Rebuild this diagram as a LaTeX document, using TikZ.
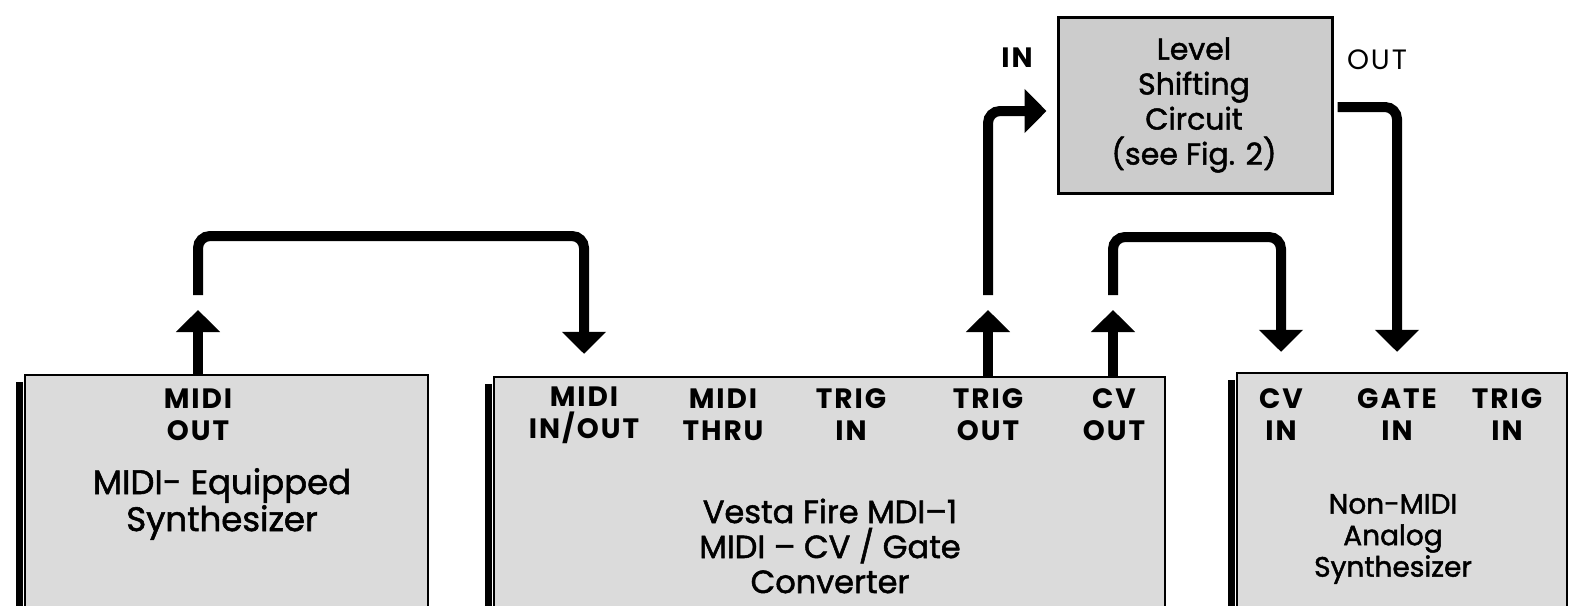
\documentclass[tikz,border=0pt]{standalone}
\usepackage{fontspec}
\setmainfont{Poppins}
\newfontfamily\titlefont{Poppins}[FakeBold=1.6]
\newfontfamily\jackfont{Poppins}[LetterSpace=7]
\usetikzlibrary{arrows.meta,positioning,fit}
\definecolor{stipple}{gray}{0.86}
\definecolor{stippledark}{gray}{0.80}

\begin{document}
\begin{tikzpicture}[
  x=0.5pt,y=-0.5pt,
  unit/.style={draw,line width=1.2pt,fill=stipple,inner sep=0pt},
  port/.style={align=center,inner sep=0pt,font=\jackfont\bfseries\fontsize{14}{16}\selectfont},
  title/.style={align=center,inner sep=0pt,font=\titlefont\fontsize{16}{17.5}\selectfont},
  link/.style={line width=5pt,rounded corners=6pt,-{Triangle[width=21.5pt,length=11pt]}},
  shadowbar/.style={line width=3.5pt}
]
\useasboundingbox (0,0) rectangle (1578,605);
% the four units
\node[unit,fit={(25,375) (428,640)}] (synth) {};
\node[unit,fit={(494,377) (1165,640)}] (mdi) {};
\node[unit,fit={(1237,373) (1567,640)}] (analog) {};
\node[unit,fill=stippledark,line width=1.5pt,fit={(1058,17) (1332,193)}] (shift) {};
\draw[shadowbar] ([xshift=-2.3pt,yshift=-4pt]synth.north west) -- ([xshift=-2.3pt]synth.south west);
\draw[shadowbar] ([xshift=-2.3pt,yshift=-4pt]mdi.north west) -- ([xshift=-2.3pt]mdi.south west);
\draw[shadowbar] ([xshift=-2.3pt,yshift=-4pt]analog.north west) -- ([xshift=-2.3pt]analog.south west);
% jacks
\node[port] (midiout) at (198,415) {MIDI\\OUT};
\node[port] (midiio) at (584,415) {MIDI\\IN/OUT};
\node[port] (midithru) at (723,415) {MIDI\\THRU};
\node[port] (trigin) at (851,415) {TRIG\\IN};
\node[port] (trigout) at (988,415) {TRIG\\OUT};
\node[port] (cvout) at (1114,415) {CV\\OUT};
\node[port] (cvin) at (1281,415) {CV\\IN};
\node[port] (gatein) at (1397,415) {GATE\\IN};
\node[port] (trigina) at (1507,415) {TRIG\\IN};
% unit names
\node[title,font=\titlefont\fontsize{17}{18.5}\selectfont] (synthname) at (222,504) {MIDI- Equipped\\Synthesizer};
\node[title] (mdiname) at (830,546) {Vesta Fire MDI–1\\MIDI – CV / Gate\\Converter};
\node[title,font=\titlefont\fontsize{14}{15.75}\selectfont] (analogname) at (1393,539) {Non-MIDI\\Analog\\Synthesizer};
\node[title,font=\titlefont\fontsize{15}{17.5}\selectfont] (shiftname) at (1194,105) {Level\\Shifting\\Circuit\\(see Fig. 2)};
\node[port] (inlbl) at (1017,58) {IN};
\node[port,font=\jackfont\fontsize{14}{16}\selectfont] (outlbl) at (1377,60) {OUT};
% free ends of the cables
\coordinate (midiout-up) at (198,310);
\coordinate (trigout-up) at (988,310);
\coordinate (cvout-up) at (1113,310);
\coordinate (midiout-tail) at (198,295);
\coordinate (trigout-tail) at (988,295);
\coordinate (cvout-tail) at (1113,295);
% cables
\draw[link] (synth.north -| midiout-up) -- (midiout-up);
\draw[link] (mdi.north -| trigout-up) -- (trigout-up);
\draw[link] (mdi.north -| cvout-up) -- (cvout-up);
\draw[link] (midiout-tail) -- ++(0,-59) -| ([yshift=11pt]mdi.north -| midiio);
\draw[link] (trigout-tail) |- ([xshift=-5pt,yshift=-3pt]shift.west);
\draw[link] (cvout-tail) -- ++(0,-58) -| ([yshift=10pt]analog.north -| cvin);
\draw[link] ([xshift=2pt,yshift=-1pt]shift.east) -| ([yshift=10pt]analog.north -| gatein);
\end{tikzpicture}
\end{document}
